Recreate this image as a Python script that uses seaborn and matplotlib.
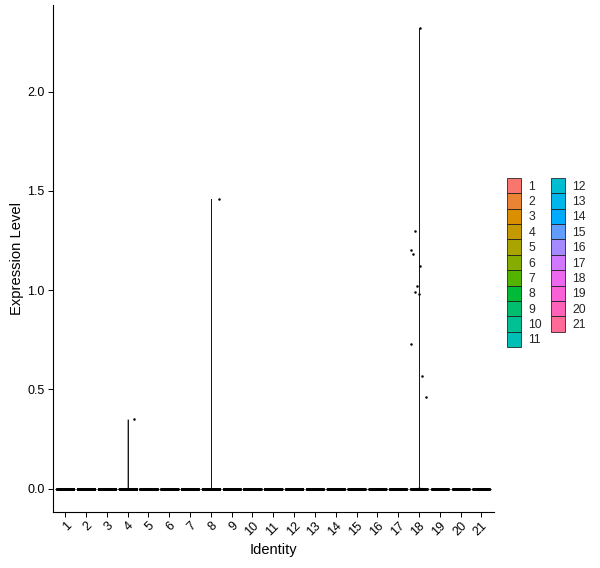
import numpy as np
import pandas as pd
import matplotlib
matplotlib.use("Agg")
import matplotlib.pyplot as plt
import seaborn as sns

# cluster identities and (estimated) cell counts per cluster
clusters = [str(i) for i in range(1, 22)]
n_cells = [300, 280, 260, 250, 240, 230, 220, 210, 200, 190, 180,
           170, 160, 150, 140, 130, 120, 110, 100, 90, 80]

# non-zero expression values
expr_c4 = [0.35]
expr_c8 = [1.46]
expr_c18 = [2.32, 1.30, 1.20, 1.18, 1.12, 1.02, 0.99, 0.98, 0.73, 0.57, 0.46]
nonzero = {"4": expr_c4, "8": expr_c8, "18": expr_c18}


def hue_pal(n, c=100, l=65):
    """ggplot2-style hue palette (polar LUV -> sRGB)."""
    hues = np.linspace(15, 375, n + 1)[:n]
    xn, yn, zn = 95.047, 100.0, 108.883
    un = 4 * xn / (xn + 15 * yn + 3 * zn)
    vn = 9 * yn / (xn + 15 * yn + 3 * zn)
    m = np.array([[3.2404542, -1.5371385, -0.4985314],
                  [-0.9692660, 1.8760108, 0.0415560],
                  [0.0556434, -0.2040259, 1.0572252]])
    out = []
    for h in hues:
        u = c * np.cos(np.radians(h))
        v = c * np.sin(np.radians(h))
        y = yn * ((l + 16) / 116) ** 3
        up = u / (13 * l) + un
        vp = v / (13 * l) + vn
        x = y * 9 * up / (4 * vp)
        z = y * (12 - 3 * up - 20 * vp) / (4 * vp)
        rgb = m @ (np.array([x, y, z]) / 100)
        rgb = np.where(rgb <= 0.0031308, 12.92 * rgb,
                       1.055 * np.clip(rgb, 0, None) ** (1 / 2.4) - 0.055)
        out.append(tuple(np.clip(rgb, 0, 1)))
    return out


rows = []
for cl, n in zip(clusters, n_cells):
    vals = list(nonzero.get(cl, []))
    vals += [0.0] * (n - len(vals))
    rows += [(cl, v) for v in vals]
df = pd.DataFrame(rows, columns=["ident", "expr"])
df["ident"] = pd.Categorical(df["ident"], categories=clusters)

palette = dict(zip(clusters, hue_pal(len(clusters))))

sns.set_style("ticks")
plt.rcParams["font.family"] = ["Liberation Sans", "DejaVu Sans"]

fig = plt.figure(figsize=(6.0, 5.68), dpi=100)
ax = fig.add_axes([0.088, 0.099, 0.735, 0.892])

sns.violinplot(
    data=df, x="ident", y="expr", hue="ident", palette=palette,
    order=clusters, hue_order=clusters, density_norm="width", cut=0,
    bw_adjust=0.01, gridsize=400, inner=None, width=0.95, saturation=1,
    linewidth=0.55, linecolor="#1a1a1a", legend=True, ax=ax,
)

np.random.seed(3)
sns.stripplot(
    data=df, x="ident", y="expr", order=clusters, color="black",
    size=1.8, jitter=0.4, linewidth=0, ax=ax, legend=False,
)

ax.set_xlim(-0.6, len(clusters) - 0.4)
ax.set_ylim(-0.116, 2.436)
ax.set_yticks([0.0, 0.5, 1.0, 1.5, 2.0])
ax.set_yticklabels(["0.0", "0.5", "1.0", "1.5", "2.0"])
ax.set_xlabel("Identity", fontsize=10.5, color="black", labelpad=3)
ax.set_ylabel("Expression Level", fontsize=10.6, color="black", labelpad=2)
ax.tick_params(axis="both", labelsize=9, colors="black", length=3.5,
               width=0.7, pad=2.5)
for lab in ax.get_xticklabels():
    lab.set_rotation(45)
    lab.set_ha("right")
    lab.set_rotation_mode("anchor")
sns.despine(ax=ax)
for s in ["left", "bottom"]:
    ax.spines[s].set_color("black")
    ax.spines[s].set_linewidth(0.8)

handles, labels = ax.get_legend_handles_labels()
ax.legend(
    handles, labels, ncol=2, frameon=False, loc="center left",
    bbox_to_anchor=(1.03, 0.492), fontsize=8.8, handlelength=1.15,
    handleheight=1.56, labelspacing=0.0, columnspacing=0.75,
    handletextpad=0.6, borderaxespad=0, borderpad=0,
)

fig.savefig("out.png", dpi=100)
